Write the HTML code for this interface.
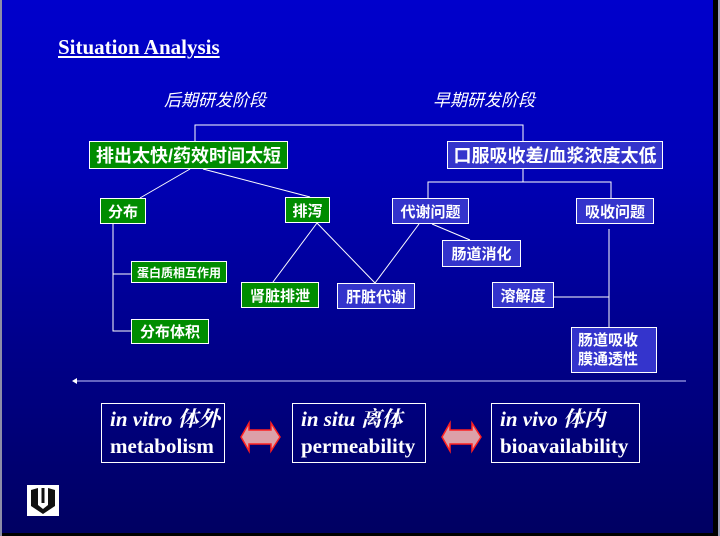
<!DOCTYPE html>
<html><head><meta charset="utf-8"><style>
html,body{margin:0;padding:0;}
body{width:720px;height:536px;position:relative;overflow:hidden;background:#000;font-family:"Liberation Serif","Noto Serif CJK SC","Noto Sans CJK SC",serif;}
#slide{position:absolute;left:2px;top:0;width:711px;height:533px;background:linear-gradient(#0000cc 0%,#0000b8 30%,#00008a 65%,#000062 100%);}
#gr{position:absolute;left:0;top:0;width:2px;height:536px;background:#8c8ca8;}
#gr2{position:absolute;left:718px;top:0;width:2px;height:536px;background:#9ca0b8;}
.b{position:absolute;box-sizing:border-box;border:1px solid #fff;color:#fff;font-weight:bold;font-family:"Liberation Sans","Noto Sans CJK SC",sans-serif;display:flex;align-items:center;justify-content:center;white-space:nowrap;}
.g{background:#008c00;}
.u{background:#3434cc;}
.t{position:absolute;color:#fff;white-space:nowrap;}
.w{position:absolute;box-sizing:border-box;border:1px solid #fff;color:#fff;font-weight:bold;font-size:21px;line-height:27px;padding:2px 0 0 8px;white-space:nowrap;}
</style></head><body>
<div id="gr"></div><div id="gr2"></div>
<div id="slide"></div>
<svg width="720" height="536" style="position:absolute;left:0;top:0">
<g stroke="#fff" stroke-width="1" fill="none">
<polyline points="195,141 195,125 523,125 523,141"/>
<line x1="190" y1="169" x2="140" y2="198"/>
<line x1="203" y1="169" x2="310" y2="197"/>
<polyline points="523,169 523,182"/>
<polyline points="428,198 428,182 611,182 611,198"/>
<polyline points="113,224 113,331 131,331"/>
<line x1="113" y1="274" x2="131" y2="274"/>
<line x1="317" y1="223" x2="273" y2="282"/>
<line x1="317" y1="223" x2="375" y2="283"/>
<line x1="419" y1="224" x2="375" y2="283"/>
<line x1="432" y1="224" x2="470" y2="240"/>
<line x1="609" y1="229" x2="609" y2="328"/>
<line x1="554" y1="297" x2="609" y2="297"/>
<line x1="76" y1="381" x2="686" y2="381" stroke="#c8c8ff"/>
</g>
<polygon points="72,381 77,378 77,384" fill="#fff"/>
<g fill="#dca0a8" stroke="#ff2020" stroke-width="1.5">
<polygon points="241,437 249,423 249,430 271,430 271,423 280,437 271,451 271,444 249,444 249,451"/>
<polygon points="442,437 450,423 450,430 472,430 472,423 481,437 472,451 472,444 450,444 450,451"/>
</g>
<rect x="27" y="485" width="32" height="31" fill="#fff"/>
<polygon points="31,490 38,488 38,505 43,509 48,505 48,488 55,490 55,506 43,514 31,506" fill="#111"/>
<line x1="43" y1="488" x2="43" y2="503" stroke="#111" stroke-width="3"/>
</svg>
<div class="t" style="left:58px;top:35px;font-size:21px;font-weight:bold;text-decoration:underline;">Situation Analysis</div>
<div class="t" style="left:164px;top:86px;font-size:17px;font-style:italic;font-family:'Liberation Sans','Noto Sans CJK SC',sans-serif;">后期研发阶段</div>
<div class="t" style="left:433px;top:86px;font-size:17px;font-style:italic;font-family:'Liberation Sans','Noto Sans CJK SC',sans-serif;">早期研发阶段</div>
<div class="b g" style="left:89px;top:141px;width:199px;height:28px;font-size:18px;">排出太快/药效时间太短</div>
<div class="b u" style="left:447px;top:141px;width:216px;height:28px;font-size:18px;">口服吸收差/血浆浓度太低</div>
<div class="b g" style="left:100px;top:198px;width:46px;height:26px;font-size:15px;">分布</div>
<div class="b g" style="left:285px;top:197px;width:45px;height:26px;font-size:15px;">排泻</div>
<div class="b u" style="left:392px;top:198px;width:77px;height:26px;font-size:15px;">代谢问题</div>
<div class="b u" style="left:576px;top:198px;width:78px;height:26px;font-size:15px;">吸收问题</div>
<div class="b g" style="left:131px;top:261px;width:96px;height:22px;font-size:12px;">蛋白质相互作用</div>
<div class="b g" style="left:131px;top:319px;width:78px;height:25px;font-size:15px;">分布体积</div>
<div class="b g" style="left:241px;top:282px;width:78px;height:26px;font-size:15px;">肾脏排泄</div>
<div class="b u" style="left:337px;top:283px;width:78px;height:26px;font-size:15px;">肝脏代谢</div>
<div class="b u" style="left:442px;top:240px;width:79px;height:27px;font-size:15px;">肠道消化</div>
<div class="b u" style="left:492px;top:282px;width:62px;height:26px;font-size:15px;">溶解度</div>
<div class="b u" style="left:571px;top:327px;width:86px;height:46px;font-size:15px;line-height:19px;white-space:normal;text-align:left;justify-content:flex-start;padding-left:6px;">肠道吸收<br>膜通透性</div>
<div class="w" style="left:101px;top:403px;width:124px;height:60px;"><i>in vitro 体外</i><br>metabolism</div>
<div class="w" style="left:292px;top:403px;width:134px;height:60px;"><i>in situ 离体</i><br>permeability</div>
<div class="w" style="left:491px;top:403px;width:149px;height:60px;"><i>in vivo 体内</i><br>bioavailability</div>
</body></html>
